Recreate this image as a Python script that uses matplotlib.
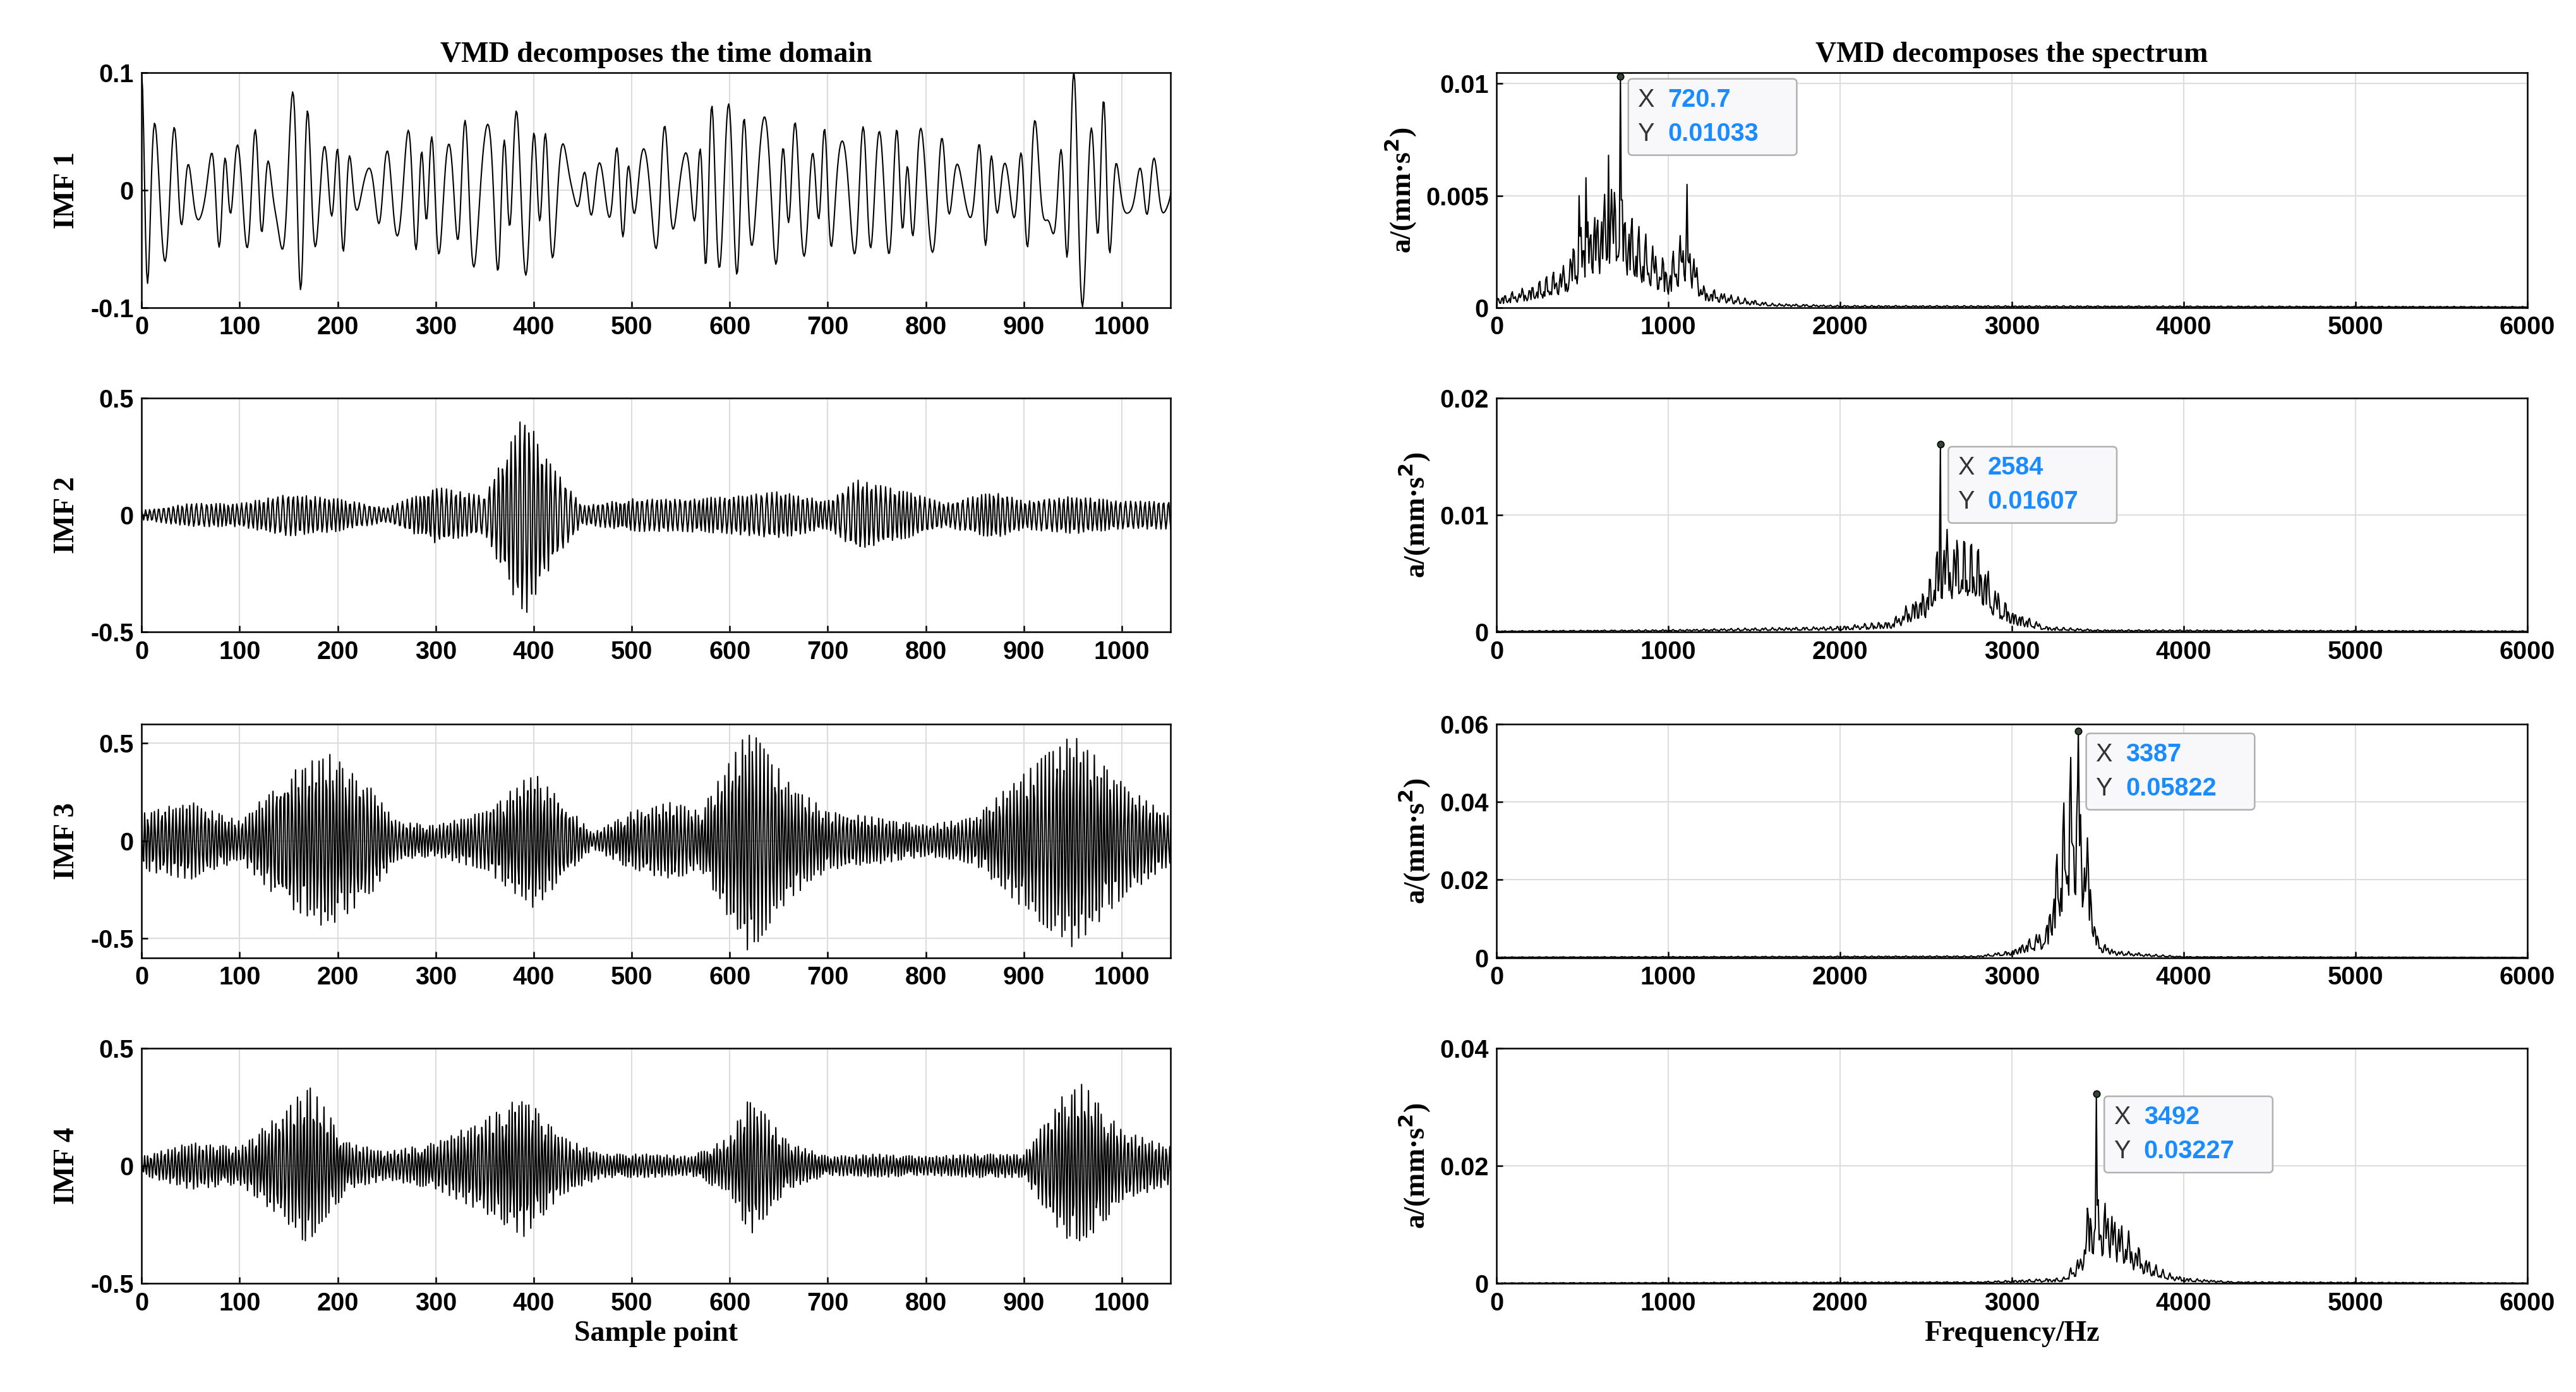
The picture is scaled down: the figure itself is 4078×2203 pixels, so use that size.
import numpy as np
import matplotlib
matplotlib.use("Agg")
import matplotlib.pyplot as plt
from matplotlib.patches import FancyBboxPatch

# ---- data ----
imf_names = ["IMF 1", "IMF 2", "IMF 3", "IMF 4"]
carrier_cps = [0.060, 0.215, 0.282, 0.291]  # cycles / sample
env1_x = [0,50,100,160,200,250,300,350,400,450,500,550,600,650,700,750,800,850,900,960,1000,1050]
env1_y = [0.09,0.05,0.04,0.08,0.05,0.03,0.07,0.06,0.07,0.03,0.04,0.06,0.07,0.06,0.05,0.05,0.05,0.04,0.06,0.1,0.05,0.04]
env2_x = [0,50,100,150,200,250,300,350,390,420,450,500,550,600,650,700,730,780,820,870,900,950,1000,1050]
env2_y = [0.02,0.05,0.05,0.09,0.07,0.03,0.12,0.08,0.44,0.2,0.04,0.07,0.07,0.08,0.1,0.06,0.15,0.1,0.05,0.1,0.06,0.08,0.06,0.06]
env3_x = [0,50,100,150,190,230,260,300,350,400,430,460,500,540,570,620,660,700,750,800,850,900,950,1000,1050]
env3_y = [0.15,0.2,0.1,0.35,0.45,0.3,0.1,0.08,0.15,0.35,0.2,0.04,0.15,0.2,0.15,0.58,0.3,0.15,0.12,0.08,0.12,0.35,0.55,0.3,0.12]
env4_x = [0,50,100,150,170,210,250,300,350,390,430,470,520,560,600,620,660,700,750,800,850,900,940,960,1000,1050]
env4_y = [0.04,0.1,0.08,0.25,0.35,0.1,0.06,0.1,0.2,0.3,0.12,0.05,0.05,0.04,0.12,0.3,0.1,0.04,0.05,0.04,0.05,0.05,0.3,0.35,0.15,0.08]
time_env = [(env1_x, env1_y), (env2_x, env2_y), (env3_x, env3_y), (env4_x, env4_y)]
time_ylim = [(-0.1, 0.1), (-0.5, 0.5), (-0.6, 0.6), (-0.5, 0.5)]
time_yticks = [[-0.1, 0, 0.1], [-0.5, 0, 0.5], [-0.5, 0, 0.5], [-0.5, 0, 0.5]]
time_yticklabels = [["-0.1", "0", "0.1"], ["-0.5", "0", "0.5"], ["-0.5", "0", "0.5"], ["-0.5", "0", "0.5"]]

sp1_x = [0,200,400,500,600,700,800,900,1000,1100,1200,1400,1600,2000,6000]
sp1_y = [0.0005,0.001,0.002,0.004,0.005,0.006,0.004,0.003,0.002,0.004,0.001,0.0005,0.0002,0.0001,0.00005]
sp2_x = [0,1000,2000,2300,2500,2600,2800,2900,3000,3200,3500,6000]
sp2_y = [0.0001,0.0002,0.0005,0.001,0.004,0.009,0.008,0.004,0.002,0.0005,0.0002,0.0001]
sp3_x = [0,2800,3000,3200,3300,3350,3420,3500,3600,3800,4000,6000]
sp3_y = [0.0002,0.0005,0.002,0.008,0.04,0.055,0.04,0.005,0.002,0.001,0.0003,0.0001]
sp4_x = [0,2800,3300,3400,3450,3550,3700,3800,3900,4000,4300,6000]
sp4_y = [0.0001,0.0003,0.001,0.005,0.015,0.015,0.008,0.004,0.002,0.001,0.0003,0.0001]
spec_env = [(sp1_x, sp1_y), (sp2_x, sp2_y), (sp3_x, sp3_y), (sp4_x, sp4_y)]
peak_x = [720.7, 2584, 3387, 3492]
peak_y = [0.01033, 0.01607, 0.05822, 0.03227]
peak_xlab = ["720.7", "2584", "3387", "3492"]
peak_ylab = ["0.01033", "0.01607", "0.05822", "0.03227"]
spec_ylim = [0.0105, 0.02, 0.06, 0.04]
spec_yticks = [[0, 0.005, 0.01], [0, 0.01, 0.02], [0, 0.02, 0.04, 0.06], [0, 0.02, 0.04]]
spec_yticklabels = [["0", "0.005", "0.01"], ["0", "0.01", "0.02"], ["0", "0.02", "0.04", "0.06"], ["0", "0.02", "0.04"]]

# ---- figure ----
DPI = 300
fig = plt.figure(figsize=(4078/DPI, 2203/DPI), dpi=DPI)
serif = "Liberation Serif"
sans = "Liberation Sans"
tfs = 9.5
lfs = 11
rows = [(0.052, 0.221), (0.286, 0.454), (0.520, 0.688), (0.753, 0.922)]
n = np.arange(0, 1051)
f = np.linspace(0, 6000, 1051)
k = np.arange(len(f))
pt = DPI / 72.0

def style(ax):
    ax.grid(True, color="#dddddd", lw=0.5)
    ax.set_axisbelow(True)
    ax.tick_params(direction="in", labelsize=tfs, length=2.5, width=0.6, pad=3)
    for lab in ax.get_xticklabels() + ax.get_yticklabels():
        lab.set_fontfamily(sans); lab.set_fontweight("bold")
    for s in ax.spines.values():
        s.set_linewidth(0.6)

tips = []
for i in range(4):
    top, bot = rows[i]
    ax = fig.add_axes([0.055, 1 - bot, 0.3995, bot - top])
    ex, ey = time_env[i]
    env = np.interp(n, ex, ey)
    fc = carrier_cps[i]
    phase = 2*np.pi*fc*n + 1.3*np.sin(2*np.pi*n/97) + 0.8*np.sin(2*np.pi*n/41)
    sig = env*np.cos(phase)
    if i == 0:
        sig = env*(0.75*np.cos(phase) + 0.35*np.cos(2*np.pi*0.045*n + 2*np.sin(2*np.pi*n/150)))
    ax.plot(n, sig, color="black", lw=0.5)
    ax.set_xlim(0, 1050); ax.set_ylim(*time_ylim[i])
    ax.set_xticks(range(0, 1001, 100))
    ax.set_yticks(time_yticks[i]); ax.set_yticklabels(time_yticklabels[i])
    ax.set_ylabel(imf_names[i], fontfamily=serif, fontweight="bold", fontsize=lfs, labelpad=4)
    style(ax)
    if i == 0:
        ax.set_title("VMD decomposes the time domain", fontfamily=serif, fontweight="bold", fontsize=lfs, pad=4)
    if i == 3:
        ax.set_xlabel("Sample point", fontfamily=serif, fontweight="bold", fontsize=lfs, labelpad=2)

    ax2 = fig.add_axes([0.581, 1 - bot, 0.4, bot - top])
    sx, sy = spec_env[i]
    senv = np.interp(f, sx, sy)
    jag = 0.3 + 0.7*np.abs(np.sin(0.9*k)*np.cos(0.37*k + 0.5*np.sin(0.13*k)))
    spec = senv*jag
    if i == 0:
        for fx, fy in [(520, 0.0058), (1110, 0.0055), (650, 0.0068), (480, 0.005)]:
            spec[np.argmin(np.abs(f - fx))] = fy
    pk = np.argmin(np.abs(f - peak_x[i]))
    ff = f.copy(); ff[pk] = peak_x[i]
    spec[pk] = peak_y[i]
    ax2.plot(ff, spec, color="black", lw=0.5)
    ax2.set_xlim(0, 6000); ax2.set_ylim(0, spec_ylim[i])
    ax2.set_xticks(range(0, 6001, 1000))
    ax2.set_yticks(spec_yticks[i]); ax2.set_yticklabels(spec_yticklabels[i])
    ax2.set_ylabel("a/(mm·s$^\\mathbf{2}$)", fontfamily=serif, fontweight="bold", fontsize=lfs, labelpad=3)
    style(ax2)
    ax2.plot([peak_x[i]], [peak_y[i]], "o", ms=2.5, mfc="#334433", mec="black", mew=0.4, clip_on=False, zorder=5)
    tips.append((ax2, i))
    if i == 0:
        ax2.set_title("VMD decomposes the spectrum", fontfamily=serif, fontweight="bold", fontsize=lfs, pad=4)
    if i == 3:
        ax2.set_xlabel("Frequency/Hz", fontfamily=serif, fontweight="bold", fontsize=lfs, labelpad=2)

# datatips (box drawn in display pixels)
for ax2, i in tips:
    px, py = ax2.transData.transform((peak_x[i], peak_y[i]))
    x0 = px + 3*pt; y1 = py - 1*pt
    w = 64*pt if len(peak_ylab[i]) > 6 else 60*pt
    h = 29*pt
    box = FancyBboxPatch((x0, y1 - h), w, h, boxstyle="round,pad=0,rounding_size=%f" % (1.5*pt),
                         transform=None, fc="#f8f8fb", ec="#b0b0b0", lw=0.6, zorder=6, clip_on=False)
    fig.patches.append(box)
    for j, (lab, val) in enumerate([("X", peak_xlab[i]), ("Y", peak_ylab[i])]):
        yc = y1 - 8*pt - j*13*pt
        fig.text((x0 + 3.5*pt)/fig.bbox.width, yc/fig.bbox.height, lab, ha="left", va="center",
                 fontsize=9.5, fontfamily=sans, color="#333333", zorder=7)
        fig.text((x0 + 15*pt)/fig.bbox.width, yc/fig.bbox.height, val, ha="left", va="center",
                 fontsize=9.5, fontfamily=sans, fontweight="bold", color="#1a8cff", zorder=7)

fig.savefig("out.png", dpi=DPI, facecolor="white")
